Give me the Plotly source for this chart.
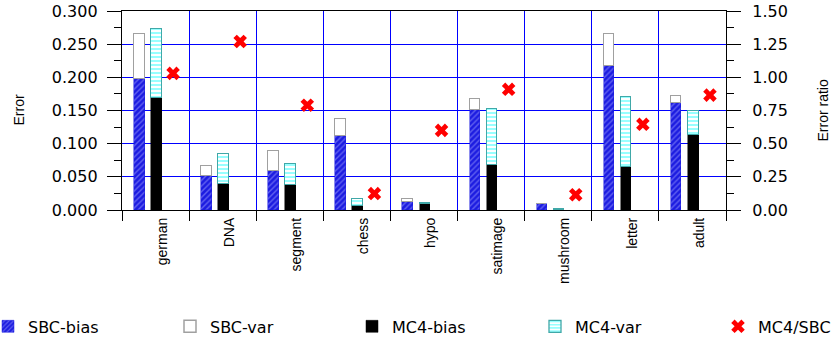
import plotly.graph_objects as go

categories = ["german", "DNA", "segment", "chess", "hypo", "satimage", "mushroom", "letter", "adult"]
sbc_bias = [0.197, 0.052, 0.059, 0.112, 0.0125, 0.151, 0.009, 0.217, 0.162]
sbc_var = [0.069, 0.015, 0.030, 0.025, 0.004, 0.016, 0.0005, 0.049, 0.010]
mc4_bias = [0.169, 0.039, 0.037, 0.0065, 0.0085, 0.0685, 0.0005, 0.0655, 0.113]
mc4_var = [0.104, 0.045, 0.033, 0.0105, 0.002, 0.0835, 0.0005, 0.1055, 0.036]
ratio = [1.03, 1.27, 0.79, 0.124, 0.60, 0.91, 0.115, 0.646, 0.866]

y_ticks = [0.0, 0.05, 0.10, 0.15, 0.20, 0.25, 0.30]
y2_ticks = [0.0, 0.25, 0.5, 0.75, 1.0, 1.25, 1.5]

n = len(categories)
idx = list(range(n))
x_sbc = [i + 0.258 for i in idx]
x_mc4 = [i + 0.512 for i in idx]
x_ratio = [i + 0.761 for i in idx]
x_lab = [i + 0.6 for i in idx]
BW = 0.157

LEG_FONT = dict(family="DejaVu Sans", size=16, color="black")

fig = go.Figure()
fig.add_trace(go.Bar(
    x=x_sbc, y=sbc_bias, width=BW, name="SBC-bias", legend="legend",
    marker=dict(color="#1c1ce0", line=dict(color="#1c1ce0", width=0.5),
                pattern=dict(shape="/", bgcolor="#1c1ce0", fgcolor="#a8a8ff", size=4, solidity=0.35)),
))
fig.add_trace(go.Bar(
    x=x_sbc, y=sbc_var, width=BW, name="SBC-var", legend="legend2",
    marker=dict(color="white", line=dict(color="#a0a0a0", width=1.5)),
))
fig.add_trace(go.Bar(
    x=x_mc4, y=mc4_bias, width=BW, name="MC4-bias", legend="legend3",
    marker=dict(color="black", line=dict(color="black", width=0.5)),
))
fig.add_trace(go.Bar(
    x=x_mc4, y=mc4_var, width=BW, name="MC4-var", legend="legend4",
    marker=dict(color="white", line=dict(color="#40a8a8", width=1.3),
                pattern=dict(shape="-", bgcolor="white", fgcolor="#30ffff", size=4, solidity=0.5)),
))
fig.add_trace(go.Scatter(
    x=x_ratio, y=ratio, yaxis="y2", mode="markers", name="MC4/SBC", legend="legend5",
    marker=dict(symbol="x", size=12, color="#ff0000", line=dict(width=0)),
))

leg_common = dict(orientation="h", yanchor="middle", xanchor="left", y=-0.585,
                  font=LEG_FONT, bgcolor="rgba(0,0,0,0)", borderwidth=0)
W = 604.0
def lx(px):
    return (px - 122) / W

fig.update_layout(
    width=836, height=339,
    margin=dict(l=122, r=110, t=11, b=129, autoexpand=False),
    paper_bgcolor="white", plot_bgcolor="white",
    barmode="stack", bargap=0,
    font=dict(family="Liberation Sans, Arial", color="black"),
    showlegend=True,
    legend=dict(x=lx(-12), **leg_common),
    legend2=dict(x=lx(170), **leg_common),
    legend3=dict(x=lx(352), **leg_common),
    legend4=dict(x=lx(535), **leg_common),
    legend5=dict(x=lx(718), **leg_common),
    xaxis=dict(
        range=[0, n], tickmode="array", tickvals=x_lab, ticktext=categories,
        tickangle=-90, ticks="", showgrid=False, zeroline=False,
        tickfont=dict(family="Liberation Sans, Arial", size=14, color="black"),
        ticklabelstandoff=1,
        showline=True, linecolor="black", linewidth=1.3, mirror=True,
        minor=dict(tickmode="linear", tick0=0, dtick=1, ticks="outside", ticklen=10,
                   tickcolor="black", tickwidth=1.3, showgrid=True, gridcolor="#0000ff", gridwidth=1.3),
    ),
    yaxis=dict(
        range=[0, 0.3], tickmode="array", tickvals=y_ticks, tickformat=".3f",
        ticks="outside", ticklen=14, tickcolor="black", tickwidth=1.3,
        showgrid=True, gridcolor="#0000ff", gridwidth=1.3, zeroline=False,
        showline=True, linecolor="black", linewidth=1.3, mirror=True,
        tickfont=dict(family="DejaVu Sans", size=16, color="black"),
        ticklabelstandoff=6,
        minor=dict(tickmode="linear", tick0=0, dtick=0.025, ticks="outside", ticklen=7,
                   tickcolor="black", tickwidth=1.3, showgrid=False),
    ),
    yaxis2=dict(
        range=[0, 1.5], overlaying="y", side="right", anchor="x",
        tickmode="array", tickvals=y2_ticks, tickformat=".2f",
        ticks="outside", ticklen=14, tickcolor="black", tickwidth=1.3,
        showgrid=False, zeroline=False,
        showline=True, linecolor="black", linewidth=1.3,
        tickfont=dict(family="DejaVu Sans", size=16, color="black"),
        ticklabelstandoff=8,
        minor=dict(tickmode="linear", tick0=0, dtick=0.125, ticks="outside", ticklen=7,
                   tickcolor="black", tickwidth=1.3, showgrid=False),
    ),
    annotations=[
        dict(text="Error", xref="paper", yref="paper", x=lx(18), y=0.5, textangle=-90,
             showarrow=False, xanchor="center", yanchor="middle",
             font=dict(family="Liberation Sans, Arial", size=14, color="black")),
        dict(text="Error ratio", xref="paper", yref="paper", x=lx(822), y=0.5, textangle=-90,
             showarrow=False, xanchor="center", yanchor="middle",
             font=dict(family="Liberation Sans, Arial", size=14, color="black")),
    ],
)

fig.write_html("out.html", config={"displayModeBar": False},
               post_script="document.body.style.margin='0';document.body.style.overflow='hidden';")
